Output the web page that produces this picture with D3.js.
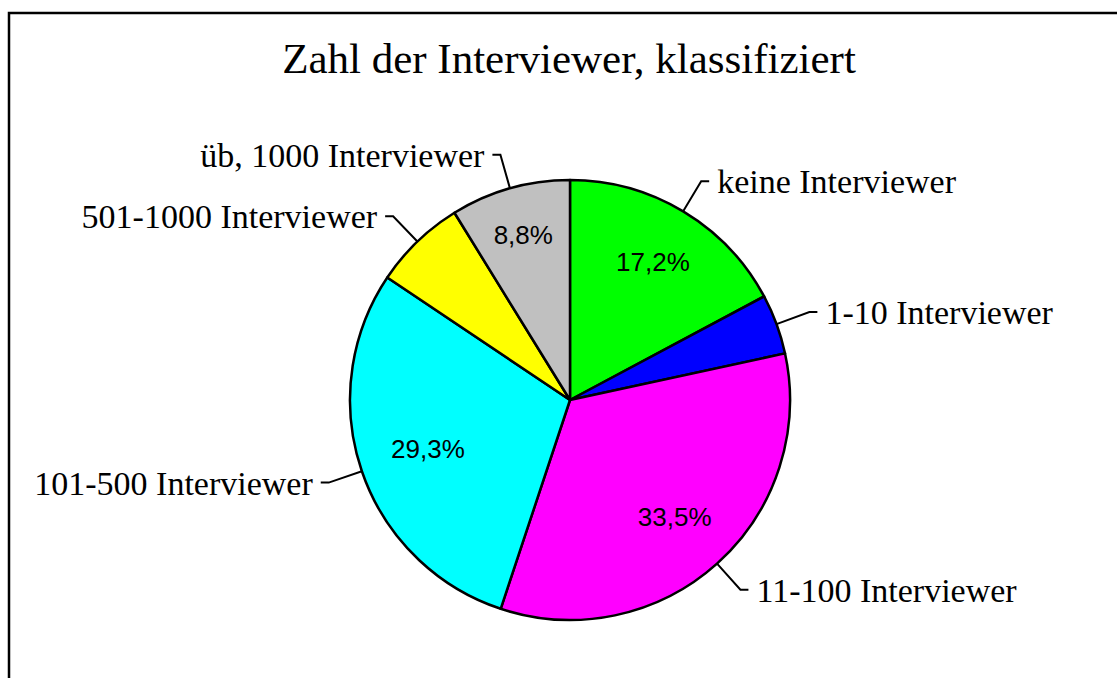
<!DOCTYPE html>
<html>
<head>
<meta charset="utf-8">
<script src="https://cdn.jsdelivr.net/npm/d3@7"></script>
<style>
  html, body { margin: 0; background: #fff; overflow: hidden; }
  svg { display: block; }
</style>
</head>
<body>
<div id="chart"></div>
<script>
// data (share in %)
var categories = ["keine Interviewer", "1-10 Interviewer", "11-100 Interviewer",
                  "101-500 Interviewer", "501-1000 Interviewer", "üb, 1000 Interviewer"];
var shares = [17.2, 4.4, 33.5, 29.3, 6.8, 8.8];
var colors = ["#00ff00", "#0000ff", "#ff00ff", "#00ffff", "#ffff00", "#c0c0c0"];
var chartTitle = "Zahl der Interviewer, klassifiziert";

var width = 1117, height = 678;
var cx = 570, cy = 400, radius = 220;
var elbowRadius = 255;   // where leader lines bend
var pctOuter = 188;      // outer edge of the % labels

var svg = d3.select("#chart").append("svg")
  .attr("width", width)
  .attr("height", height);

// chart frame: only top and left edges fall inside the window
svg.append("path")
  .attr("d", "M9," + height + "V13H" + width)
  .attr("fill", "none")
  .attr("stroke", "#000")
  .attr("stroke-width", 2.5);

svg.append("text")
  .attr("x", 569).attr("y", 73)
  .attr("text-anchor", "middle")
  .style("font-family", "'Liberation Serif', 'Times New Roman', serif")
  .style("font-size", "43px")
  .text(chartTitle);

var pie = d3.pie().sort(null).value(function(d) { return d; });
var arcs = pie(shares);
var arc = d3.arc().innerRadius(0).outerRadius(radius);

var g = svg.append("g").attr("transform", "translate(" + cx + "," + cy + ")");

g.selectAll(".slice")
  .data(arcs)
  .enter().append("path")
  .attr("class", "slice")
  .attr("d", arc)
  .attr("fill", function(d, i) { return colors[i]; })
  .attr("stroke", "#000")
  .attr("stroke-width", 2.5)
  .attr("stroke-linejoin", "round");

function midAngle(d) { return (d.startAngle + d.endAngle) / 2; }
function polar(a, r) { return [Math.sin(a) * r, -Math.cos(a) * r]; }

// leader lines + category labels
arcs.forEach(function(d, i) {
  var a = midAngle(d);
  var p0 = polar(a, radius);
  var p1 = polar(a, elbowRadius);
  var right = Math.sin(a) > 0;
  var p2 = [p1[0] + (right ? 8 : -8), p1[1]];

  g.append("path")
    .attr("d", d3.line()([p0, p1, p2]))
    .attr("fill", "none")
    .attr("stroke", "#000")
    .attr("stroke-width", 2);

  g.append("text")
    .attr("x", p2[0] + (right ? 8 : -8))
    .attr("y", p1[1] + 12)
    .attr("text-anchor", right ? "start" : "end")
    .style("font-family", "'Liberation Serif', 'Times New Roman', serif")
    .style("font-size", "34px")
    .text(categories[i]);
});

// percentage labels, only for the larger slices
var fmtPct = function(v) { return v.toFixed(1).replace(".", ",") + "%"; };
g.selectAll(".pct")
  .data(arcs.filter(function(d) { return d.value > 8; }))
  .enter().append("text")
  .attr("class", "pct")
  .attr("text-anchor", "middle")
  .attr("dy", "0.35em")
  .style("font-family", "'Liberation Sans', Arial, sans-serif")
  .style("font-size", "26px")
  .text(function(d) { return fmtPct(d.value); })
  .each(function(d) {
    var a = midAngle(d);
    var w = this.getComputedTextLength();
    var ext = Math.abs(Math.sin(a)) * w / 2 + Math.abs(Math.cos(a)) * 9;
    var p = polar(a, pctOuter - ext);
    d3.select(this).attr("x", p[0]).attr("y", p[1]);
  });
</script>
</body>
</html>
